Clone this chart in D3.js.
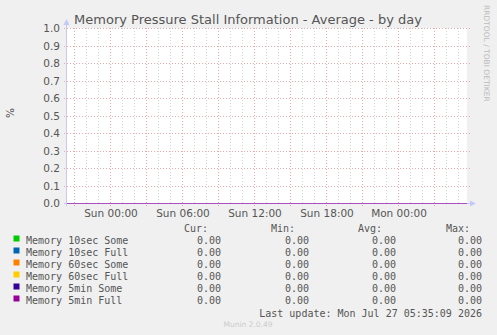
<!DOCTYPE html>
<html>
<head>
<meta charset="utf-8">
<script src="https://cdn.jsdelivr.net/npm/d3@7"></script>
<style>
  html, body { margin: 0; padding: 0; background: #f0f0f0; }
  svg { display: block; }
  text { font-family: "DejaVu Sans", sans-serif; }
  .mono { font-family: "DejaVu Sans Mono", monospace; }
</style>
</head>
<body>
<svg id="chart" width="497" height="335"></svg>
<script>
  // series names + munin colours
  var seriesNames = ['Memory 10sec Some', 'Memory 10sec Full', 'Memory 60sec Some',
                     'Memory 60sec Full', 'Memory 5min Some', 'Memory 5min Full'];
  var seriesColors = ['#00cc00', '#0066b3', '#ff8000', '#ffcc00', '#330099', '#990099'];

  // sample times (local) and values, all flat at zero
  var sampleTimes = ['2026-07-25T20:25:00', '2026-07-26T00:00:00', '2026-07-26T06:00:00',
                     '2026-07-26T12:00:00', '2026-07-26T18:00:00', '2026-07-27T00:00:00',
                     '2026-07-27T05:45:00'];
  var tenSecSome = [0, 0, 0, 0, 0, 0, 0];
  var tenSecFull = [0, 0, 0, 0, 0, 0, 0];
  var sixtySecSome = [0, 0, 0, 0, 0, 0, 0];
  var sixtySecFull = [0, 0, 0, 0, 0, 0, 0];
  var fiveMinSome = [0, 0, 0, 0, 0, 0, 0];
  var fiveMinFull = [0, 0, 0, 0, 0, 0, 0];

  // legend stats
  var curValues = [0, 0, 0, 0, 0, 0];
  var minValues = [0, 0, 0, 0, 0, 0];
  var avgValues = [0, 0, 0, 0, 0, 0];
  var maxValues = [0, 0, 0, 0, 0, 0];

  var yTicks = [0, 0.1, 0.2, 0.3, 0.4, 0.5, 0.6, 0.7, 0.8, 0.9, 1.0];
  var xLabelTimes = ['2026-07-26T00:00:00', '2026-07-26T06:00:00', '2026-07-26T12:00:00',
                     '2026-07-26T18:00:00', '2026-07-27T00:00:00'];

  var title = 'Memory Pressure Stall Information - Average - by day';
  var lastUpdate = 'Last update: Mon Jul 27 05:35:09 2026';

  var svg = d3.select('#chart'),
      plotLeft = 67, plotTop = 28, plotW = 400, plotH = 175,
      parse = function(s) { return new Date(s); },
      fmt = d3.timeFormat('%a %H:%M'),
      grey = '#555';

  var x = d3.scaleTime()
        .domain([parse(sampleTimes[0]), parse(sampleTimes[sampleTimes.length - 1])])
        .range([plotLeft, plotLeft + plotW]);
  var y = d3.scaleLinear().domain([0, 1]).range([plotTop + plotH, plotTop]);

  svg.append('rect').attr('width', 497).attr('height', 335).attr('fill', '#f0f0f0');
  svg.append('rect').attr('x', plotLeft).attr('y', plotTop).attr('width', plotW).attr('height', plotH)
    .attr('fill', '#fff');

  // minor grid: every hour
  var hours = d3.timeHour.range(x.domain()[0], x.domain()[1]);
  svg.append('g').selectAll('line').data(hours.filter(function(d) { return d.getHours() % 3 !== 0; }))
    .join('line')
      .attr('x1', function(d) { return Math.round(x(d)) + 0.5; })
      .attr('x2', function(d) { return Math.round(x(d)) + 0.5; })
      .attr('y1', plotTop).attr('y2', plotTop + plotH)
      .attr('stroke', '#d4d4d4').attr('stroke-dasharray', '1,2');

  // major grid: every 3 hours, plus small ticks below
  var majors = hours.filter(function(d) { return d.getHours() % 3 === 0; });
  svg.append('g').selectAll('line').data(majors)
    .join('line')
      .attr('x1', function(d) { return Math.round(x(d)) + 0.5; })
      .attr('x2', function(d) { return Math.round(x(d)) + 0.5; })
      .attr('y1', plotTop).attr('y2', plotTop + plotH + 3)
      .attr('stroke', '#eeaaaa').attr('stroke-dasharray', '1,2');

  svg.append('g').selectAll('line').data(yTicks.slice(1))
    .join('line')
      .attr('x1', plotLeft - 3).attr('x2', plotLeft + plotW + 3)
      .attr('y1', function(d) { return Math.round(y(d)) + 0.5; })
      .attr('y2', function(d) { return Math.round(y(d)) + 0.5; })
      .attr('stroke', '#eeaaaa').attr('stroke-dasharray', '1,2');

  // tick labels
  svg.append('g').selectAll('text').data(yTicks)
    .join('text')
      .attr('x', plotLeft - 7).attr('y', function(d) { return y(d) + 4; })
      .attr('text-anchor', 'end').attr('font-size', 10.5).attr('fill', grey)
      .text(d3.format('.1f'));

  svg.append('g').selectAll('text').data(xLabelTimes.map(parse))
    .join('text')
      .attr('x', function(d) { return x(d) + 1; }).attr('y', plotTop + plotH + 14)
      .attr('text-anchor', 'middle').attr('font-size', 10.5).attr('fill', grey)
      .text(fmt);

  // axes with arrows
  var axisColor = '#c8c8f8';
  svg.append('line').attr('x1', plotLeft - 0.5).attr('x2', plotLeft - 0.5)
    .attr('y1', plotTop + plotH + 3).attr('y2', plotTop - 4).attr('stroke', axisColor);
  svg.append('path').attr('d', 'M' + (plotLeft - 3.5) + ',' + (plotTop - 3) + 'L' + (plotLeft - 0.5) + ',' + (plotTop - 9) +
      'L' + (plotLeft + 2.5) + ',' + (plotTop - 3) + 'Z').attr('fill', axisColor);
  svg.append('line').attr('x1', plotLeft - 3).attr('x2', plotLeft + plotW + 4)
    .attr('y1', plotTop + plotH + 0.5).attr('y2', plotTop + plotH + 0.5).attr('stroke', axisColor);
  svg.append('path').attr('d', 'M' + (plotLeft + plotW + 3) + ',' + (plotTop + plotH - 2.5) + 'L' + (plotLeft + plotW + 9) + ',' +
      (plotTop + plotH + 0.5) + 'L' + (plotLeft + plotW + 3) + ',' + (plotTop + plotH + 3.5) + 'Z').attr('fill', axisColor);

  // series lines (all at zero, they sit on the x axis)
  var allSeries = [tenSecSome, tenSecFull, sixtySecSome, sixtySecFull, fiveMinSome, fiveMinFull];
  var line = d3.line()
    .x(function(d, i) { return x(parse(sampleTimes[i])); })
    .y(function(d) { return Math.round(y(d)) + 0.5; });
  var lines = svg.append('g').attr('opacity', 0.6);
  allSeries.forEach(function(values, i) {
    lines.append('path').datum(values).attr('d', line)
      .attr('fill', 'none').attr('stroke', seriesColors[i]).attr('stroke-width', 1);
  });

  // title and side labels
  svg.append('text').attr('x', 248).attr('y', 24).attr('text-anchor', 'middle')
    .attr('font-size', 13).attr('fill', grey).text(title);
  svg.append('text').attr('transform', 'translate(14,113) rotate(-90)').attr('text-anchor', 'middle')
    .attr('font-size', 10.5).attr('fill', grey).text('%');
  svg.append('text').attr('transform', 'translate(484,5) rotate(90)').attr('text-anchor', 'start')
    .attr('font-size', 7.5).attr('fill', '#bbb').text('RRDTOOL / TOBI OETIKER');

  // legend
  var legend = svg.append('g').attr('class', 'mono').attr('font-size', 10).attr('fill', grey);
  var cols = [
    { label: 'Cur:', values: curValues, right: 221, labelRight: 208 },
    { label: 'Min:', values: minValues, right: 309, labelRight: 295 },
    { label: 'Avg:', values: avgValues, right: 396, labelRight: 382 },
    { label: 'Max:', values: maxValues, right: 482, labelRight: 470 }
  ];
  cols.forEach(function(c) {
    legend.append('text').attr('class', 'mono').attr('x', c.labelRight).attr('y', 232)
      .attr('text-anchor', 'end').text(c.label);
  });
  seriesNames.forEach(function(name, i) {
    var ry = 244 + i * 12;
    legend.append('rect').attr('x', 13.5).attr('y', ry - 8.5).attr('width', 6).attr('height', 6)
      .attr('fill', seriesColors[i]);
    legend.append('text').attr('class', 'mono').attr('x', 26).attr('y', ry).text(name);
    cols.forEach(function(c) {
      legend.append('text').attr('class', 'mono').attr('x', c.right).attr('y', ry)
        .attr('text-anchor', 'end').text(d3.format('.2f')(c.values[i]));
    });
  });
  legend.append('text').attr('class', 'mono').attr('x', 482).attr('y', 317)
    .attr('text-anchor', 'end').text(lastUpdate);

  svg.append('text').attr('x', 248).attr('y', 327).attr('text-anchor', 'middle')
    .attr('font-size', 7.5).attr('fill', '#ccc').text('Munin 2.0.49');
</script>
</body>
</html>
